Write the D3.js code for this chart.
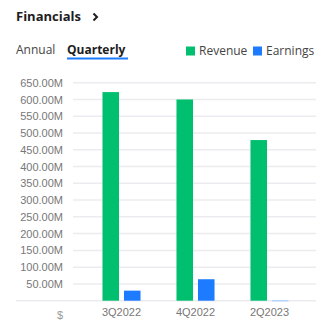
<!DOCTYPE html>
<html><head><meta charset="utf-8">
<script src="https://cdn.jsdelivr.net/npm/d3@7"></script>
<style>
html,body{margin:0;padding:0;background:#fff;}
svg{display:block;font-family:"Open Sans",sans-serif;}
</style></head>
<body><svg id="c" width="323" height="329"></svg>
<script>
const categories = ["3Q2022","4Q2022","2Q2023"];
const seriesNames = ["Revenue","Earnings"];
const revenue = [622, 600, 479];
const earnings = [30, 64, 2];
const yTicks = [50,100,150,200,250,300,350,400,450,500,550,600,650];
const yTickLabels = yTicks.map(v => v.toFixed(2) + "M");

const colors = {Revenue:"#00BF6F", Earnings:"#1D7BFF"};
const faded = "#B5D5FF";

const svg = d3.select("#c");

// header
svg.append("text").attr("x",16).attr("y",21).attr("font-size",13).attr("font-weight",700)
  .attr("fill","#1d1d1f").text("Financials");
svg.append("path").attr("d","M93.5,13.5 L97,17 L93.5,20.5").attr("fill","none").attr("stroke","#1d1d1f").attr("stroke-width",2);

svg.append("text").attr("x",16).attr("y",54).attr("font-size",12).attr("fill","#444").text("Annual");
svg.append("text").attr("x",67).attr("y",54).attr("font-size",12).attr("font-weight",700).attr("fill","#1d1d1f").text("Quarterly");
svg.append("rect").attr("x",67).attr("y",57.5).attr("width",61).attr("height",2).attr("fill","#1D7BFF");

// legend
const leg = [{n:"Revenue",x:186},{n:"Earnings",x:253}];
leg.forEach(l=>{
  svg.append("rect").attr("x",l.x).attr("y",46.5).attr("width",9).attr("height",9).attr("fill",colors[l.n]);
  svg.append("text").attr("x",l.x+13).attr("y",55).attr("font-size",12).attr("fill","#444").text(l.n);
});

const y = d3.scaleLinear().domain([0,650]).range([300.7,82.7]);
const x0 = d3.scaleBand().domain(categories).range([84.5,306.5]).paddingInner(0.486).paddingOuter(0.243);
const x1 = d3.scaleBand().domain(seriesNames).range([0,x0.bandwidth()]).paddingInner(0.23);

// gridlines
const grid = svg.append("g");
grid.selectAll("line").data(yTicks).join("line")
  .attr("x1",73).attr("x2",316).attr("y1",d=>y(d)).attr("y2",d=>y(d))
  .attr("stroke","#ececf0").attr("stroke-width",1.5);
svg.append("line").attr("x1",16).attr("x2",316).attr("y1",y(0)).attr("y2",y(0))
  .attr("stroke","#ececf0").attr("stroke-width",1.5);

// y axis labels
const yAxis = d3.axisLeft(y).tickValues(yTicks).tickFormat((d,i)=>yTickLabels[i]).tickSize(0).tickPadding(0);
const ga = svg.append("g").attr("transform","translate(63,0)").call(yAxis);
ga.select(".domain").remove();
ga.selectAll("text").attr("font-size",11).attr("fill","#777").attr("font-family","Liberation Sans, Arial, sans-serif");

svg.append("text").attr("x",63).attr("y",319).attr("text-anchor","end").attr("font-size",11)
  .attr("fill","#999").attr("font-family","Liberation Sans, Arial, sans-serif").text("$");

// bars
const data = categories.map((c,i)=>({c, vals:[{s:"Revenue",v:revenue[i]},{s:"Earnings",v:earnings[i]}]}));
const g = svg.append("g");
g.selectAll("g").data(data).join("g").attr("transform",d=>`translate(${x0(d.c)},0)`)
  .selectAll("rect").data(d=>d.vals).join("rect")
  .attr("x",d=>x1(d.s)).attr("width",x1.bandwidth())
  .attr("y",d=>y(d.v)).attr("height",d=>y(0)-y(d.v)+ (d.v<5?0.8:0))
  .attr("fill",d=> d.v<5 ? faded : colors[d.s]);

// x labels
const xAxis = d3.axisBottom(x0).tickSize(0).tickPadding(0);
const gx = svg.append("g").attr("transform","translate(0,308)").call(xAxis);
gx.select(".domain").remove();
gx.selectAll("text").attr("font-size",11).attr("fill","#777").attr("font-family","Liberation Sans, Arial, sans-serif").attr("dy","0.71em");
</script></body></html>
